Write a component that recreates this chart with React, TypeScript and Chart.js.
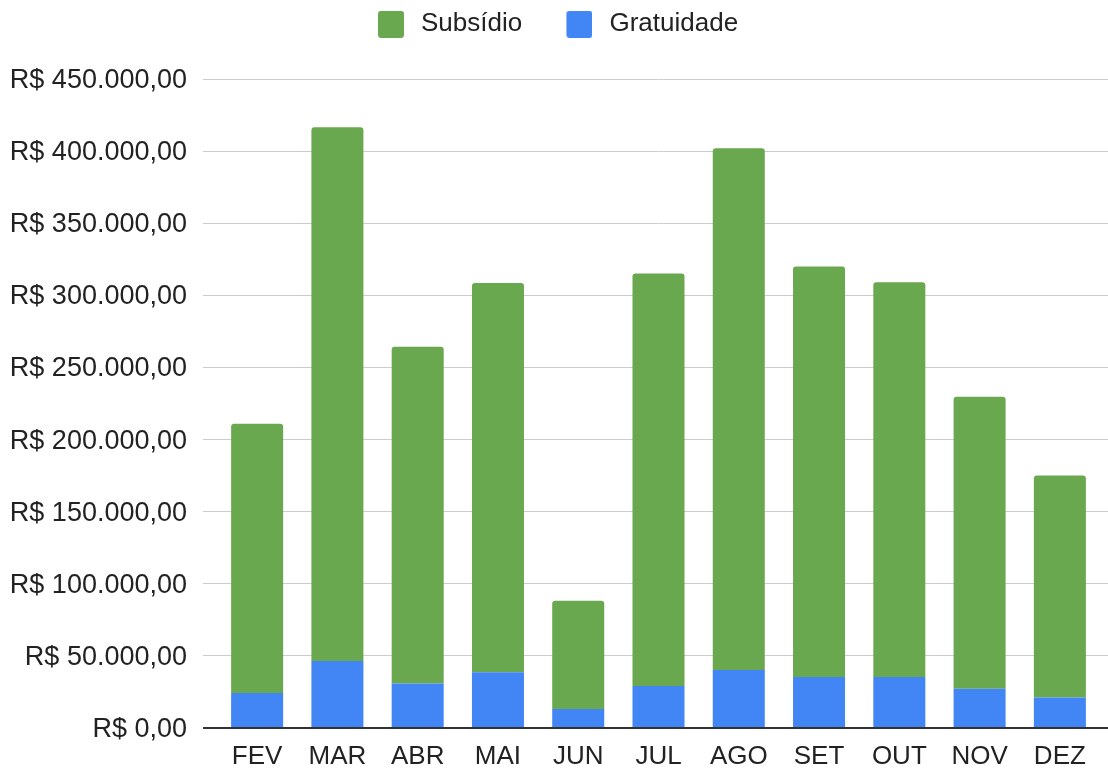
import React, { useEffect, useRef } from 'react';
import { Chart, registerables } from 'chart.js';

Chart.register(...registerables);

const months = ['FEV', 'MAR', 'ABR', 'MAI', 'JUN', 'JUL', 'AGO', 'SET', 'OUT', 'NOV', 'DEZ'];
const gratuidade = [24300, 46500, 30800, 38600, 13200, 29100, 40200, 35400, 35400, 27300, 21100];
const subsidio = [186700, 370000, 233600, 269900, 75000, 286100, 361700, 284600, 273600, 202400, 153900];
const yMin = 0;
const yMax = 450000;
const yStep = 50000;

const GREEN = '#6aa84f';
const BLUE = '#4285f4';
const TEXT = '#222222';
const GRID = '#cccccc';
const ZERO = '#333333';
const FONT = '"Liberation Sans", Arial, sans-serif';

function formatBRL(v: number): string {
  const s = Math.round(v).toString().replace(/\B(?=(\d{3})+(?!\d))/g, '.');
  return 'R$ ' + s + ',00';
}

function makeSwatch(color: string): HTMLCanvasElement {
  const c = document.createElement('canvas');
  c.width = 30;
  c.height = 27;
  const g = c.getContext('2d')!;
  g.fillStyle = color;
  g.beginPath();
  if ((g as any).roundRect) (g as any).roundRect(4, 0, 26, 27, 3);
  else g.rect(4, 0, 26, 27);
  g.fill();
  return c;
}

export default function App() {
  const ref = useRef<HTMLCanvasElement | null>(null);

  useEffect(() => {
    if (!ref.current) return;
    const swatches: Record<number, HTMLCanvasElement> = { 0: makeSwatch(BLUE), 1: makeSwatch(GREEN) };
    const gridColor = (c: any) => (c.tick && c.tick.value === 0 ? ZERO : GRID);
    const gridWidth = (c: any) => (c.tick && c.tick.value === 0 ? 2 : 1);

    const chart = new Chart(ref.current, {
      type: 'bar',
      data: {
        labels: months,
        datasets: [
          {
            label: 'Gratuidade',
            data: gratuidade,
            backgroundColor: BLUE,
            borderWidth: 0,
            barPercentage: 0.648,
            categoryPercentage: 1,
          },
          {
            label: 'Subsídio',
            data: subsidio,
            backgroundColor: GREEN,
            borderWidth: 0,
            borderRadius: { topLeft: 3, topRight: 3, bottomLeft: 0, bottomRight: 0 },
            borderSkipped: 'bottom',
            barPercentage: 0.648,
            categoryPercentage: 1,
          },
        ],
      },
      options: {
        responsive: false,
        animation: false,
        layout: { padding: { top: -24.9, left: 0, right: 0, bottom: 0 } },
        plugins: {
          tooltip: { enabled: false },
          legend: {
            position: 'top',
            align: 'center',
            reverse: true,
            labels: {
              usePointStyle: true,
              pointStyleWidth: 38.1,
              padding: 36.2,
              color: TEXT,
              font: { family: FONT, size: 26 },
              generateLabels: (ch: any) => {
                const items = (Chart.defaults.plugins.legend.labels as any).generateLabels(ch);
                return items.map((it: any) => ({ ...it, pointStyle: swatches[it.datasetIndex], lineWidth: 0 }));
              },
            },
          },
        },
        scales: {
          x: {
            stacked: true,
            position: 'bottom',
            grid: { display: false },
            border: { display: false },
            ticks: { color: TEXT, font: { family: FONT, size: 26 }, padding: 5, maxRotation: 0, autoSkip: false },
            afterFit: (s: any) => {
              s.height = 41;
            },
          },
          xTop: {
            type: 'category',
            position: 'top',
            grid: { display: false },
            border: { display: false },
            ticks: { display: false },
            afterFit: (s: any) => {
              s.height = 31.7;
            },
          },
          y: {
            stacked: true,
            position: 'left',
            min: yMin,
            max: yMax,
            border: { display: false },
            grid: { color: gridColor, tickColor: gridColor, lineWidth: gridWidth, drawTicks: true, tickLength: 14 },
            ticks: {
              stepSize: yStep,
              padding: 16,
              labelOffset: 1.5,
              color: TEXT,
              font: { family: FONT, size: 27 },
              callback: (v: any) => formatBRL(Number(v)),
            },
            afterFit: (s: any) => {
              s.width = 217;
            },
          },
          y2: {
            position: 'right',
            min: yMin,
            max: yMax,
            border: { display: false },
            grid: { drawOnChartArea: false, color: gridColor, tickColor: gridColor, lineWidth: gridWidth, drawTicks: true, tickLength: 8 },
            ticks: { stepSize: yStep, display: false },
            afterFit: (s: any) => {
              s.width = 8;
            },
          },
        },
      } as any,
    });
    return () => chart.destroy();
  }, []);

  return (
    <div style={{ position: 'fixed', left: 0, top: 0, width: 1108, height: 769, background: '#ffffff' }}>
      <canvas ref={ref} width={1108} height={769} style={{ display: 'block' }} />
    </div>
  );
}
